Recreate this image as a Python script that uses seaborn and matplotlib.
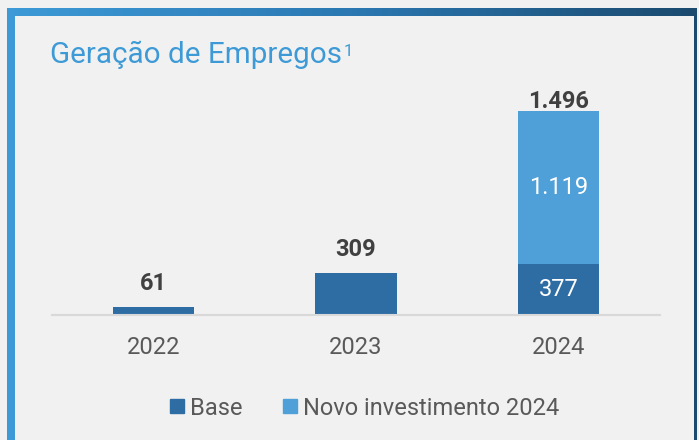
import numpy as np
import pandas as pd
import matplotlib
matplotlib.use("Agg")
import matplotlib.pyplot as plt
from matplotlib.lines import Line2D
from matplotlib.colors import LinearSegmentedColormap
import seaborn as sns

# data
years = ["2022", "2023", "2024"]
base = [61, 309, 377]
novo = [0, 0, 1119]
totals = [b + n for b, n in zip(base, novo)]
total_labels = ["61", "309", "1.496"]
base_labels = ["", "", "377"]
novo_labels = ["", "", "1.119"]

BG = "#f1f1f1"
DARK = "#2e6da4"
LIGHT = "#4fa0d8"

sns.set_theme(style="white")
plt.rcParams["font.family"] = ["Roboto", "DejaVu Sans"]

fig = plt.figure(figsize=(6.99, 4.4), dpi=100, facecolor=BG)

# frame: gradient top bar, left bar, thin right line
W, H = 699, 440
bg_ax = fig.add_axes([0, 0, 1, 1], zorder=-5)
bg_ax.axis("off")
cmap = LinearSegmentedColormap.from_list("frame", ["#3d9ad6", "#2b78b2", "#1b4a6e"])
grad = np.linspace(0, 1, 256).reshape(1, -1)
bg_ax.imshow(grad, cmap=cmap, aspect="auto", extent=[7, 697, 16, 8])
bg_ax.add_patch(plt.Rectangle((7, 8), 8, H, color="#3d9ad6", lw=0))
bg_ax.add_patch(plt.Rectangle((694, 8), 3, H, color="#1b4a6e", lw=0))
bg_ax.set_xlim(0, W)
bg_ax.set_ylim(H, 0)

title = fig.text(50 / W, 1 - 63 / H, "Geração de Empregos", color="#3d9ad6",
                 fontsize=21.3, ha="left", va="baseline")
fig.canvas.draw()
bb = title.get_window_extent()
fig.text((bb.x1 + 2) / W, 1 - 56 / H, "1", color="#3d9ad6", fontsize=12,
         ha="left", va="baseline")

ax = fig.add_axes([52 / W, 125 / H, (660 - 52) / W, (315 - 90) / H])
ax.set_facecolor("none")

sns.barplot(x=years, y=totals, color=LIGHT, width=0.4, saturation=1, linewidth=0, ax=ax)
sns.barplot(x=years, y=base, color=DARK, width=0.4, saturation=1, linewidth=0, ax=ax)

ax.set_xlim(-0.5, 2.5)
ax.set_ylim(0, 1650)
ax.set_yticks([])
for s in ["top", "left", "right"]:
    ax.spines[s].set_visible(False)
ax.spines["bottom"].set_color("#d9d9d9")
ax.spines["bottom"].set_linewidth(1.5)
ax.tick_params(axis="x", length=0, pad=15, labelsize=17, labelcolor="#595959")

for i in range(len(years)):
    gap = 22 if novo[i] > 0 else 122
    ax.text(i, totals[i] + gap, total_labels[i], ha="center", va="baseline",
            fontsize=17, fontweight="bold", color="#404040")
    if base_labels[i]:
        ax.text(i, base[i] / 2, base_labels[i], ha="center", va="center",
                fontsize=17, color="white")
    if novo_labels[i]:
        ax.text(i, base[i] + novo[i] / 2, novo_labels[i], ha="center", va="center",
                fontsize=17, color="white")

handles = [Line2D([], [], marker="s", ls="", color=DARK, markersize=9.5),
           Line2D([], [], marker="s", ls="", color=LIGHT, markersize=9.5)]
fig.legend(handles, ["Base", "Novo investimento 2024"], loc="center",
           bbox_to_anchor=(362 / W, 1 - 408 / H), ncol=2, frameon=False,
           fontsize=17, labelcolor="#595959", handletextpad=0.05,
           columnspacing=1.5, handlelength=1.0)

fig.savefig("out.png", dpi=100, facecolor=BG)
